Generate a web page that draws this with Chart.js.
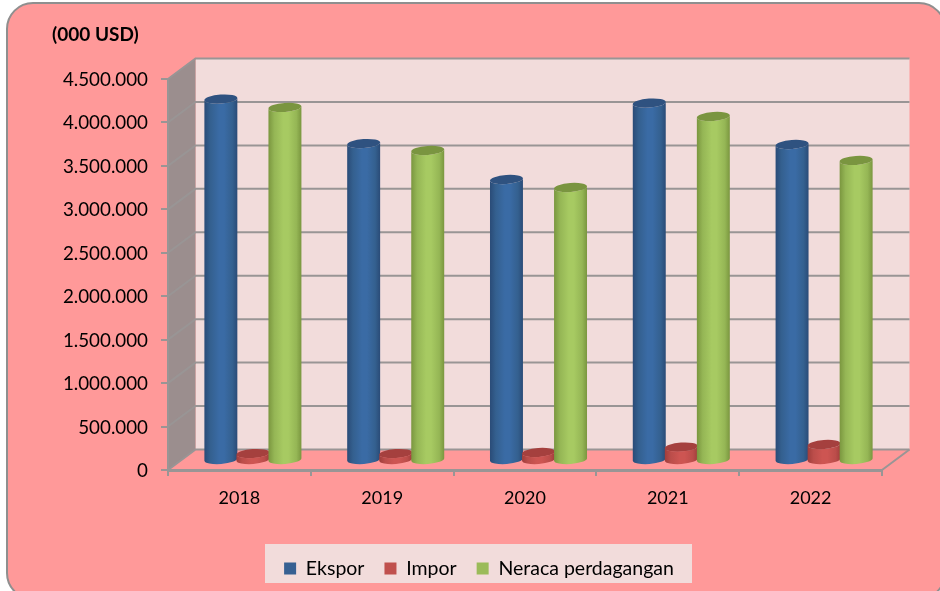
<!DOCTYPE html>
<html><head><meta charset="utf-8">
<style>html,body{margin:0;padding:0;background:#fff}#w{width:940px;height:591px}</style>
<script src="https://cdn.jsdelivr.net/npm/chart.js@4"></script></head>
<body><div id="w"><canvas id="c" width="940" height="591"></canvas></div>
<script>
const categories = ['2018','2019','2020','2021','2022'];
const ekspor = [4160000,3648000,3234000,4114000,3637000];
const impor = [80000,80000,92000,155000,184000];
const neraca = [4063000,3568000,3142000,3959000,3453000];
const yTickLabels = ['0','500.000','1.000.000','1.500.000','2.000.000','2.500.000','3.000.000','3.500.000','4.000.000','4.500.000'];
const titleText = '(000 USD)';

const FONT = 'Lato, sans-serif';
const DX = 27.5, DY = -20.5;      // depth of the 3D box
const BX = 13.5, BY = -9.5;       // bar offset (mid-depth)
const tones = [
  {edge:'#2a4b77',near:'#34608f',mid:'#3a6ba5',top:'#2f5280',sw:'#376092'},
  {edge:'#a03d3b',near:'#bb4d4a',mid:'#cd5552',top:'#a5403e',sw:'#c0504d'},
  {edge:'#7a963f',near:'#95b655',mid:'#a7ca62',top:'#7a9540',sw:'#9bbb59'}
];

const box3d = {
  id:'box3d',
  beforeDraw(chart){
    const c = chart.ctx, a = chart.chartArea, y = chart.scales.y;
    c.save();
    c.beginPath(); c.roundRect(7,3,938,596,26);
    c.fillStyle='#ff9999'; c.fill();
    c.lineWidth=2; c.strokeStyle='#8f8f8f'; c.stroke();
    c.fillStyle='#f2dcdb';
    c.fillRect(a.left+DX,a.top+DY,a.right-a.left,a.bottom-a.top);
    c.fillStyle='#9b8e8e';
    c.beginPath(); c.moveTo(a.left,a.top); c.lineTo(a.left+DX,a.top+DY);
    c.lineTo(a.left+DX,a.bottom+DY); c.lineTo(a.left,a.bottom); c.closePath(); c.fill();
    c.strokeStyle='#999595'; c.lineWidth=2;
    y.ticks.forEach(t=>{
      const p=y.getPixelForValue(t.value);
      c.beginPath(); c.moveTo(a.left,p); c.lineTo(a.left+DX,p+DY); c.lineTo(a.right+DX,p+DY); c.stroke();
    });
    c.beginPath(); c.moveTo(a.right,a.bottom); c.lineTo(a.right+DX,a.bottom+DY); c.stroke();
    c.fillStyle='#f2dcdb'; c.fillRect(265,544,427,39);
    c.restore();
  },
  afterLayout(chart){
    chart.titleBlock.left = 52;
    const l = chart.legend;
    const w = l.right-l.left;
    l.left = 38; l.right = 38+w;
    l.top = 563.5 - l.height/2; l.bottom = l.top + l.height;
  },
  beforeDatasetsDraw(chart){
    const c = chart.ctx, tilt = -0.07, ry = 4.5;
    c.save();
    c.translate(BX,BY);
    chart.data.datasets.forEach((d,i)=>{
      const t = tones[i];
      chart.getDatasetMeta(i).data.forEach(b=>{
        const p = b.getProps(['x','y','base','width'],true);
        const rx = p.width/2+0.5, l = p.x-rx, r = p.x+rx;
        const g = c.createLinearGradient(l,0,r,0);
        g.addColorStop(0,t.edge); g.addColorStop(.18,t.near);
        g.addColorStop(.45,t.mid); g.addColorStop(.6,t.mid);
        g.addColorStop(.85,t.near); g.addColorStop(1,t.edge);
        c.beginPath();
        c.ellipse(p.x,p.y,rx,ry,tilt,Math.PI,0,true);
        c.ellipse(p.x,p.base,rx,ry,tilt,0,Math.PI,false);
        c.closePath();
        c.fillStyle=g; c.fill();
        c.beginPath(); c.ellipse(p.x,p.y,rx,ry,tilt,0,Math.PI*2);
        c.fillStyle=t.top; c.fill();
      });
    });
    c.restore();
  },
  beforeDatasetDraw(){ return false; }
};

const ds = (label,data,i)=>({label,data,backgroundColor:tones[i].sw,borderWidth:0});

new Chart(document.getElementById('c'),{
  type:'bar',
  data:{labels:categories,datasets:[ds('Ekspor',ekspor,0),ds('Impor',impor,1),ds('Neraca perdagangan',neraca,2)]},
  plugins:[box3d],
  options:{
    responsive:false,animation:false,
    layout:{padding:{left:0,right:58,top:0,bottom:0}},
    datasets:{bar:{categoryPercentage:0.673,barPercentage:1}},
    plugins:{
      title:{display:true,text:titleText,align:'start',color:'#000',
        font:{family:FONT,size:19,weight:'bold',lineHeight:'20px'},padding:{top:25,bottom:34}},
      legend:{position:'bottom',labels:{boxWidth:12,boxHeight:12,padding:20,color:'#000',font:{family:FONT,size:19.5}}},
      tooltip:{enabled:false}
    },
    scales:{
      x:{
        afterFit(s){s.height = 121 - s.chart.legend.height;},
        grid:{drawOnChartArea:false,drawTicks:true,tickLength:6,tickColor:'#999595',lineWidth:2},
        border:{display:true,color:'#999595',width:3},
        ticks:{color:'#000',font:{family:FONT,size:18},padding:11,maxRotation:0}
      },
      y:{
        min:0,max:4500000,
        afterFit(s){s.width=168;},
        grid:{drawOnChartArea:false,drawTicks:true,tickLength:7,tickColor:'#999595',lineWidth:2},
        border:{display:true,color:'#999595',width:2},
        ticks:{stepSize:500000,color:'#000',font:{family:FONT,size:18.8},padding:13,labelOffset:1,
          callback(v){return yTickLabels[Math.round(v/500000)];}}
      }
    }
  }
});
</script></body></html>
